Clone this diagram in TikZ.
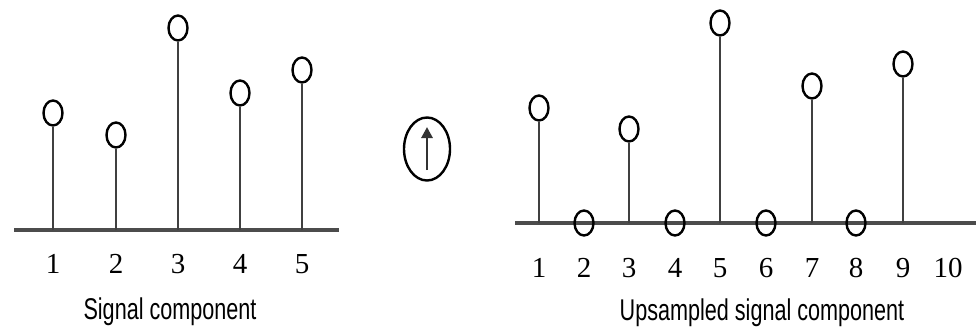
\documentclass[tikz,border=0pt]{standalone}
\usepackage{fontspec}
\usepackage{graphicx}
\setmainfont{Liberation Serif}
\newfontfamily\labelfont{Liberation Sans}
\usetikzlibrary{arrows.meta,shapes.geometric}
\tikzset{
  samp/.style={draw=black, line width=2.4pt, ellipse, minimum width=19pt, minimum height=25pt, inner sep=0pt},
  stem/.style={draw=black!75, line width=2.3pt},
  axisline/.style={draw=black!70, line width=3.5pt},
  num/.style={font=\fontsize{29}{29}\selectfont, inner sep=0pt},
  captext/.style={font=\labelfont\fontsize{30}{30}\selectfont, inner sep=0pt},
}
\begin{document}
\begin{tikzpicture}[x=1pt,y=-1pt]
\useasboundingbox (0,0) rectangle (976,335);
% left panel
\coordinate (la) at (14,230);
\coordinate (lb) at (339,230);
\draw[axisline] (la) -- (lb);
\foreach \i/\x/\y in {1/53/113, 2/116/135, 3/178/28, 4/240/93, 5/302/70} {
  \coordinate (lbase\i) at (\x,230);
  \node[samp] (lc\i) at (\x,\y) {};
  \draw[stem] (lbase\i) -- (lc\i.south);
  \node[num] (ln\i) at (\x,264) {\i};
}
\node[captext] (lcap) at (170,312) {\scalebox{0.72}[1]{Signal component}};
% middle symbol
\node[draw=black, line width=2.4pt, ellipse, minimum width=46pt, minimum height=63pt, inner sep=0pt] (up) at (427,149) {};
\coordinate (upb) at (427,170);
\coordinate (upt) at (427,127);
\draw[line width=2.8pt, draw=black!80, -{Triangle[length=11pt,width=11pt]}] (upb) -- (upt);
% right panel
\coordinate (ra) at (515,223);
\coordinate (rb) at (976,223);
\draw[axisline] (ra) -- (rb);
\foreach \i/\x/\y in {1/539/108, 3/629/129, 5/720/23, 7/812/86, 9/903/64} {
  \coordinate (rbase\i) at (\x,223);
  \node[samp] (rc\i) at (\x,\y) {};
  \draw[stem] (rbase\i) -- (rc\i.south);
}
\foreach \i/\x in {2/584, 4/675, 6/766, 8/856} {
  \node[samp] (rc\i) at (\x,223) {};
}
\foreach \i/\x in {1/539, 2/584, 3/629, 4/675, 5/720, 6/766, 7/812, 8/856, 9/903, 10/948} {
  \node[num] (rn\i) at (\x,268) {\i};
}
\node[captext] (rcap) at (762,313) {\scalebox{0.72}[1]{Upsampled signal component}};
\end{tikzpicture}
\end{document}
